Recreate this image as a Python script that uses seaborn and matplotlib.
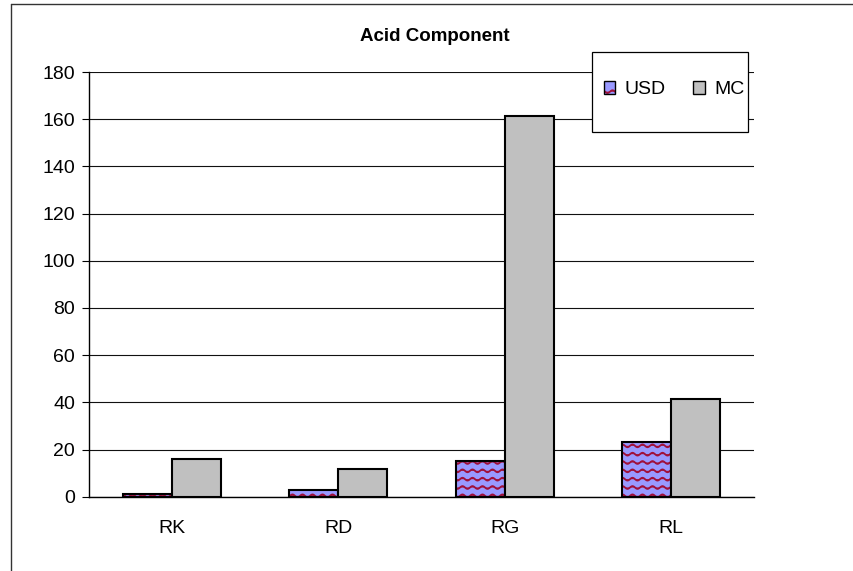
import numpy as np
import pandas as pd
import matplotlib
matplotlib.use("Agg")
import matplotlib.pyplot as plt
import matplotlib.hatch as mhatch
from matplotlib.path import Path
from matplotlib.patches import Patch, Rectangle
from matplotlib.lines import Line2D
from matplotlib.colors import to_rgba
import seaborn as sns

# Data
sites = ["RK", "RD", "RG", "RL"]
usd_values = [1.0, 2.8, 15.1, 23.2]
mc_values = [16.0, 11.7, 161.3, 41.3]
methods = ["USD", "MC"]
y_ticks = [0, 20, 40, 60, 80, 100, 120, 140, 160, 180]

USD_COLOR = "#9999FF"
WAVE_COLOR = "#A0103A"
MC_COLOR = "#C0C0C0"


class WaveHatch(mhatch.HatchPatternBase):
    """Wavy horizontal lines, used in place of the plain '-' hatch."""

    def __init__(self, hatch, density):
        self.num_lines = int((hatch.count("-") + hatch.count("+")) * density)
        self.n_pts = 121
        self.num_vertices = self.num_lines * self.n_pts

    def set_vertices_and_codes(self, vertices, codes):
        x = np.linspace(0.0, 1.0, self.n_pts)
        step = 1.0 / self.num_lines
        for i in range(self.num_lines):
            y0 = step * (i + 0.5)
            sl = slice(i * self.n_pts, (i + 1) * self.n_pts)
            vertices[sl, 0] = x
            vertices[sl, 1] = y0 + 0.014 * np.sin(2 * np.pi * 10 * x)
            codes[sl] = Path.LINETO
            codes[i * self.n_pts] = Path.MOVETO


mhatch._hatch_types = [WaveHatch if t is mhatch.HorizontalHatch else t
                       for t in mhatch._hatch_types]

sns.set_style("white")
plt.rcParams["font.family"] = ["Liberation Sans", "DejaVu Sans"]
plt.rcParams["hatch.linewidth"] = 1.3
plt.rcParams["text.color"] = "black"
plt.rcParams["xtick.color"] = "black"
plt.rcParams["ytick.color"] = "black"
plt.rcParams["xtick.labelcolor"] = "black"
plt.rcParams["ytick.labelcolor"] = "black"

df = pd.DataFrame({
    "site": sites * 2,
    "method": ["USD"] * len(sites) + ["MC"] * len(sites),
    "value": usd_values + mc_values,
})

fig = plt.figure(figsize=(8.54, 5.71), dpi=100)
ax = fig.add_axes([0.1042, 0.1301, 0.7787, 0.7438])

sns.barplot(data=df, x="site", y="value", hue="method", hue_order=methods,
            palette={"USD": USD_COLOR, "MC": MC_COLOR}, saturation=1,
            width=0.59, edgecolor="black", linewidth=1.5, errorbar=None,
            legend=False, ax=ax)

# wavy pattern on the USD bars
for bar in ax.containers[0]:
    bar.set_hatch("--")
    bar._hatch_color = to_rgba(WAVE_COLOR)

ax.set_xlim(-0.5, len(sites) - 0.5)
ax.set_ylim(0, 180)
ax.set_yticks(y_ticks)
ax.set_xlabel("")
ax.set_ylabel("")
ax.set_title("Acid Component", fontsize=13.5, fontweight="bold", x=0.52,
             pad=22, color="black")

ax.yaxis.grid(True, color="#111111", linewidth=0.8)
ax.set_axisbelow(True)
for side in ["top", "right"]:
    ax.spines[side].set_visible(False)
for side in ["left", "bottom"]:
    ax.spines[side].set_color("black")
    ax.spines[side].set_linewidth(1.0)

ax.set_xticks(np.arange(-0.5, len(sites), 1.0), minor=True)
ax.tick_params(axis="x", which="major", length=0, pad=17, labelsize=14)
ax.tick_params(axis="x", which="minor", length=5, width=0.8, direction="out",
               color="#444444")
ax.tick_params(axis="y", length=5, width=0.8, direction="out", pad=5,
               labelsize=14, left=True)

# legend box
ax.add_patch(Rectangle((0.756, 0.859), 0.235, 0.188, transform=ax.transAxes,
                       facecolor="white", edgecolor="black", linewidth=0.9,
                       clip_on=False, zorder=4.5))
usd_handle = Patch(facecolor=USD_COLOR, edgecolor="black", hatch="-")
usd_handle._hatch_color = to_rgba(WAVE_COLOR)
mc_handle = Patch(facecolor=MC_COLOR, edgecolor="black")
ax.legend([usd_handle, mc_handle], methods, loc="center",
          bbox_to_anchor=(0.880, 0.958), ncol=2, frameon=False, fontsize=14,
          handlelength=0.6, handleheight=0.6, handletextpad=0.5,
          columnspacing=1.4, borderpad=0, labelcolor="black")

# partial outer frame of the chart area
fig.add_artist(Line2D([11 / 854, 11 / 854], [0, 1 - 4 / 571],
                      color="#333333", linewidth=1.0))
fig.add_artist(Line2D([11 / 854, 1], [1 - 4 / 571, 1 - 4 / 571],
                      color="#333333", linewidth=1.0))

fig.savefig("out.png", dpi=100)
